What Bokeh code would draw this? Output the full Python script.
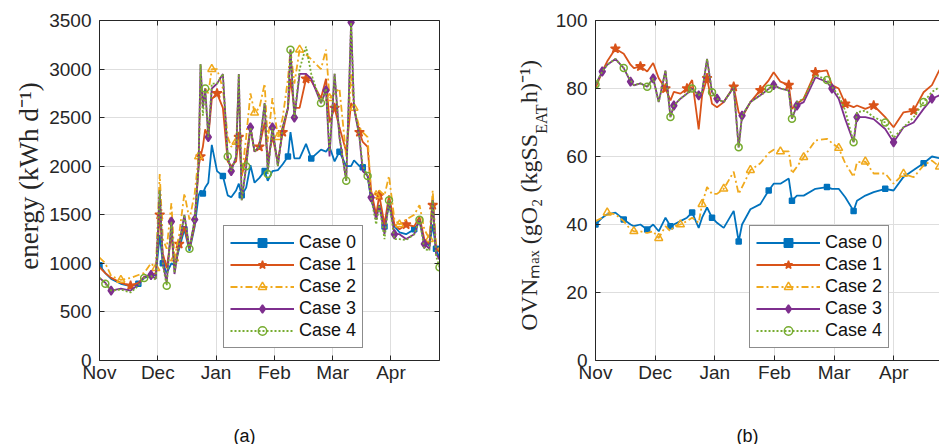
from math import pi
from bokeh.plotting import figure
from bokeh.layouts import row, column
from bokeh.models import Range1d, FixedTicker, LinearAxis, Legend, LegendItem
from bokeh.core.properties import value
from bokeh.embed import file_html
from bokeh.resources import INLINE

# ---------------- data ----------------
MONTHS = ["Nov", "Dec", "Jan", "Feb", "Mar", "Apr"]
MONTH_TICKS = [0, 30, 60, 90, 120, 150]
CASES = ["Case 0", "Case 1", "Case 2", "Case 3", "Case 4"]

energy_ticks = [0, 500, 1000, 1500, 2000, 2500, 3000, 3500]
ovn_ticks = [0, 20, 40, 60, 80, 100]

days_a = [0, 3, 6, 11, 16, 20, 23, 26.5, 29, 31,
          32.6, 34.6, 37, 38.6, 41, 43.7, 46.3, 49, 51, 52,
          53.2, 54.4, 56, 57.8, 60.5, 63.5, 66, 67.8, 70.3, 71.7,
          73.2, 75.5, 77.7, 79.8, 82.3, 85, 86.6, 89, 91.8, 94.3,
          97, 98.3, 100.3, 103, 106.3, 109, 114, 116.6, 118.4, 121,
          123.5, 127, 129.5, 131, 133.8, 135.5, 138, 139.8, 142.4, 144,
          146.7, 149, 151.8, 154.4, 157.8, 162, 164.7, 167.2, 169.8, 171.5,
          173.2, 175]

energy_case0 = [980, 900, 840, 790, 765, 790, 850, 870, 880, 1290,
                1000, 900, 1000, 980, 1150, 1350, 1130, 1380, 1700, 1750,
                1720, 1780, 1830, 2220, 1950, 1900, 1700, 1680, 1750, 1820,
                1700, 1780, 2010, 1830, 1880, 1950, 1850, 1950, 1960, 2020,
                2100, 2350, 2080, 2080, 2230, 2080, 2170, 2150, 2200, 2050,
                2150, 2000, 2000, 2060, 2000, 1990, 1900, 1650, 1500, 1600,
                1380, 1600, 1380, 1320, 1300, 1350, 1430, 1220, 1180, 1400,
                1150, 1050]
energy_case1 = [960, 900, 850, 800, 770, 800, 860, 880, 900, 1500,
                1100, 950, 1300, 950, 1200, 1380, 1150, 1400, 2000, 2100,
                2200, 2380, 2300, 2690, 2750, 2600, 2050, 2000, 2050, 2300,
                1900, 2100, 2400, 2150, 2200, 2450, 2060, 2300, 2050, 2350,
                2600, 2900, 2600, 2600, 2900, 2880, 2700, 2900, 2450, 2600,
                2400, 2150, 2650, 2600, 2350, 2250, 2200, 1750, 1500, 1700,
                1400, 1700, 1400, 1350, 1400, 1380, 1480, 1250, 1200, 1600,
                1150, 1120]
energy_case2 = [1060, 1000, 870, 830, 850, 880, 900, 1000, 950, 1920,
                1250, 1150, 1620, 1050, 1300, 1720, 1450, 1720, 2100, 2800,
                2650, 2800, 2750, 3000, 3000, 2800, 2300, 2200, 2250, 2800,
                1900, 2300, 2750, 2550, 2600, 2850, 2250, 2700, 2300, 2500,
                2900, 3200, 2850, 3200, 3150, 3100, 3000, 3200, 2700, 2750,
                2800, 2100, 2950, 2600, 2400, 2350, 2300, 1700, 1700, 1750,
                1700, 1900, 1450, 1400, 1450, 1500, 1600, 1350, 1250, 1750,
                1200, 1130]
energy_case3 = [850, 800, 720, 740, 720, 780, 860, 880, 840, 1750,
                1000, 800, 1430, 890, 1200, 1500, 1150, 1450, 2000, 3050,
                2600, 2800, 2300, 2800, 2850, 2950, 2100, 1950, 2100, 2950,
                1650, 2000, 2400, 2150, 2200, 2650, 1950, 2400, 2000, 2400,
                2600, 3200, 2500, 2950, 2950, 2900, 2650, 2780, 2100, 2950,
                2300, 1850, 3480, 2600, 2300, 1950, 1900, 1680, 1450, 1600,
                1300, 1650, 1300, 1300, 1250, 1300, 1450, 1200, 1150, 1650,
                1100, 1040]
energy_case4 = [850, 790, 720, 730, 700, 770, 850, 870, 830, 1750,
                980, 770, 1430, 900, 1200, 1500, 1150, 1450, 2000, 3050,
                2520, 2800, 2300, 2850, 2850, 2950, 2100, 1950, 2100, 2950,
                1650, 2000, 2400, 2150, 2200, 2650, 1920, 2400, 2000, 2400,
                2600, 3200, 2500, 3000, 3230, 2950, 2650, 2800, 2150, 2950,
                2300, 1850, 3480, 2620, 2300, 2000, 1900, 1680, 1400, 1600,
                1250, 1650, 1250, 1250, 1240, 1300, 1450, 1150, 1130, 1650,
                1080, 960]

days_b = [0, 3.4, 5.9, 10, 14.2, 17.6, 19.3, 22.6, 26, 29,
          31.8, 35.2, 37.7, 39.4, 42.7, 46, 48.6, 51.9, 53.6, 56.1,
          58.6, 61.1, 64.5, 69.5, 72, 73.7, 77.9, 82.9, 87.1, 89.6,
          93, 97.2, 98.8, 101.3, 104.7, 110.6, 116.4, 118.9, 122.3, 125.6,
          129.8, 131.5, 135.7, 139.9, 145.7, 149.9, 154.9, 160, 165, 169.2,
          173]

ovn_case0 = [40, 42, 43, 43.5, 41.5, 40, 39.5, 40, 38.5, 40,
             38, 42, 39.5, 40, 41, 42, 43.5, 39, 42, 45,
             42, 40.5, 39, 44, 35, 40, 44.5, 46, 50, 52,
             52, 53.5, 47, 48.5, 48.5, 50.5, 51, 50.5, 50.5, 48,
             44, 47, 48.5, 49.5, 50.5, 50, 54, 56, 58, 60,
             59.5]
ovn_case1 = [80, 85, 88, 91.7, 90.2, 87, 86, 86.5, 85, 87.5,
             83, 80, 76.5, 79, 78.5, 80, 82.5, 68, 78, 83,
             75.5, 74.5, 76, 80.5, 73, 71.5, 76, 79.5, 82.4, 84.8,
             82, 81, 74, 75.5, 77, 84.8, 85.3, 81, 80, 75.5,
             74.5, 75, 74, 75, 71.6, 68.6, 73, 73.5, 78.9, 81,
             85.5]
ovn_case2 = [41, 42, 43.5, 43, 41, 38.5, 38, 38, 37.5, 38,
             36, 39.5, 38, 39.5, 40, 41, 42, 40.5, 46, 51,
             49, 49, 50.5, 55.5, 49, 51, 56, 58, 61, 62,
             61.5, 61.5, 55, 57, 59.8, 64.7, 65.2, 64, 62.5, 58,
             54, 58.3, 58.5, 55, 55, 52, 54.9, 53.9, 57.4, 58.8,
             57]
ovn_case3 = [81, 85, 87, 88.7, 86, 82, 80.9, 81.5, 80.5, 83,
             76, 85.3, 71.6, 75, 77, 78.5, 80, 78, 79, 88.7,
             78.9, 77, 76, 80.4, 62.7, 72, 76, 78, 79.9, 81,
             80, 79.4, 71.1, 75, 76, 83.3, 81.9, 80, 77, 71,
             64.2, 71.6, 71.6, 71, 68.1, 64.2, 68.6, 70, 74, 77,
             78]
ovn_case4 = [81.2, 85, 87, 88.7, 86, 82.4, 81, 81.5, 80.5, 83,
             76, 85.3, 71.6, 75, 77, 78.5, 80, 78, 79, 88.7,
             78.9, 77, 76, 80.4, 62.7, 72, 76, 78, 79.9, 81,
             80, 79.4, 71.1, 76, 77, 84, 82.5, 80.5, 78, 73.5,
             64.2, 73, 73.5, 71.6, 70, 65.5, 68.6, 71.5, 76, 79,
             80.4]

ylabel_a = "energy (kWh d\u207b\u00b9)"
ylabel_b_head = "OVN\u2098\u2090\u2093 (gO\u2082 (kgSS"
ylabel_b_sub = "EAT"
ylabel_b_tail = " h)\u207b\u00b9)"
panel_tags = ["(a)", "(b)"]

# ---------------- styles / layout ----------------
COLORS = ["#0072BD", "#D95319", "#F0A91C", "#7E2F8E", "#77AC30"]
DASHES = ["solid", "solid", "7 3 2 3", "solid", "2 2"]
MARKERS = ["square", "star", "triangle", "diamond", "circle"]
MSIZES = [5, 10, 8, 9, 7]
MFILL = [True, True, False, True, False]
AXC = "#262626"
TOP_H = 420          # height of the row with the two charts
BOT_H = 24           # strip under the charts for (a) / (b)
FRAME_TOP = 20
FRAME_H = 340


def style_fig(p, y_ticks, right_axis):
    p.outline_line_color = None
    p.xaxis.ticker = FixedTicker(ticks=MONTH_TICKS)
    p.xaxis.major_label_overrides = {t: m for t, m in zip(MONTH_TICKS, MONTHS)}
    p.yaxis.ticker = FixedTicker(ticks=y_ticks)
    for ax in p.xaxis + p.yaxis:
        ax.major_label_text_font = "Liberation Sans"
        ax.major_label_text_font_size = "19px"
        ax.major_label_text_color = AXC
        ax.axis_line_color = AXC
        ax.major_tick_line_color = AXC
        ax.major_tick_in = 5
        ax.major_tick_out = 0
        ax.minor_tick_line_color = None
    p.xaxis.major_label_standoff = 1
    p.yaxis.major_label_standoff = 8
    p.xgrid.ticker = FixedTicker(ticks=MONTH_TICKS)
    p.ygrid.ticker = FixedTicker(ticks=y_ticks)
    p.grid.grid_line_color = "#DEDEDE"
    p.grid.grid_line_width = 1
    top = LinearAxis(ticker=FixedTicker(ticks=MONTH_TICKS), major_label_text_font_size="0px",
                     major_label_text_color=None, major_label_standoff=0, major_tick_in=5,
                     major_tick_out=0, minor_tick_line_color=None, axis_line_color=AXC,
                     major_tick_line_color=AXC)
    p.add_layout(top, "above")
    if right_axis:
        rax = LinearAxis(ticker=FixedTicker(ticks=y_ticks), major_label_text_font_size="0px",
                         major_label_text_color=None, major_label_standoff=0, major_tick_in=5,
                         major_tick_out=0, minor_tick_line_color=None, axis_line_color=AXC,
                         major_tick_line_color=AXC)
        p.add_layout(rax, "right")


def draw_series(p, xs, series, step):
    items = []
    for k, ys in enumerate(series):
        c = COLORS[k]
        lr = p.line(xs, ys, line_color=c, line_width=1.8, line_dash=DASHES[k])
        mx = [x for i, x in enumerate(xs) if (i + k) % step == 0]
        my = [y for i, y in enumerate(ys) if (i + k) % step == 0]
        sr = p.scatter(mx, my, marker=MARKERS[k], size=MSIZES[k], line_color=c, line_width=1.5,
                       fill_color=c if MFILL[k] else "white", fill_alpha=1.0 if MFILL[k] else 0.0)
        items.append(LegendItem(label=CASES[k], renderers=[lr, sr]))
    return items


def add_legend(p, items, loc):
    lg = Legend(items=items, location=loc, label_text_font="Liberation Sans",
                label_text_font_size="18px", label_text_color="#111111",
                glyph_width=64, glyph_height=21, label_height=21, label_standoff=5,
                padding=6, spacing=1, margin=0, border_line_color="#1a1a1a",
                border_line_width=1.5, background_fill_color="white", background_fill_alpha=1.0)
    p.add_layout(lg)


def text_fig(width, height):
    f = figure(width=width, height=height, x_range=Range1d(0, width), y_range=Range1d(0, height),
               output_backend="svg", toolbar_location=None, x_axis_location=None,
               y_axis_location=None, min_border_left=0, min_border_right=0,
               min_border_top=0, min_border_bottom=0)
    f.outline_line_color = None
    f.grid.visible = False
    return f


def vtext(f, fig_left, text, px, py, size, align):
    """Bottom-to-top text; px/py in page pixels (px = middle of the text line)."""
    f.text(x=[px - fig_left], y=[TOP_H - py], text=[text], angle=pi / 2,
           text_align=align, text_baseline="middle",
           text_font=value("Liberation Serif"), text_font_size=value(f"{size}px"),
           text_color=AXC)


# ---- left label strip ----
LA_W = 46
fla = text_fig(LA_W, TOP_H)
vtext(fla, 0, ylabel_a, 28, 192, 27, "center")

# ---- figure (a) ----
A_LEFT, A_W, A_FRAME_L, A_FRAME_W, A_XEND = 46, 459, 98, 341, 175
pa = figure(width=A_W, height=TOP_H, x_range=Range1d(0, A_XEND), y_range=Range1d(0, 3500),
            output_backend="svg", toolbar_location=None,
            min_border_left=A_FRAME_L - A_LEFT,
            min_border_right=A_W - (A_FRAME_L - A_LEFT) - A_FRAME_W,
            min_border_top=FRAME_TOP, min_border_bottom=TOP_H - FRAME_TOP - FRAME_H)
style_fig(pa, energy_ticks, True)
items_a = draw_series(pa, days_a, [energy_case0, energy_case1, energy_case2, energy_case3, energy_case4], 5)
add_legend(pa, items_a, (124, 12))

# ---- right label strip ----
LB_LEFT, LB_W = 505, 45
flb = text_fig(LB_W, TOP_H)
JUNCTION = 140          # page y where the subscript "EAT" starts
SUB_LEN = 38            # room given to the subscript
vtext(flb, LB_LEFT, ylabel_b_head, 528, JUNCTION, 24, "right")
vtext(flb, LB_LEFT, ylabel_b_sub, 541, JUNCTION, 16, "left")
vtext(flb, LB_LEFT, ylabel_b_tail, 528, JUNCTION - SUB_LEN, 24, "left")

# ---- figure (b) ----
B_LEFT, B_W, B_FRAME_L, B_FRAME_W, B_XEND = 550, 389, 595, 344, 173
pb = figure(width=B_W, height=TOP_H, x_range=Range1d(0, B_XEND), y_range=Range1d(0, 100),
            output_backend="svg", toolbar_location=None,
            min_border_left=B_FRAME_L - B_LEFT, min_border_right=0,
            min_border_top=FRAME_TOP, min_border_bottom=TOP_H - FRAME_TOP - FRAME_H)
style_fig(pb, ovn_ticks, False)
items_b = draw_series(pb, days_b, [ovn_case0, ovn_case1, ovn_case2, ovn_case3, ovn_case4], 4)
add_legend(pb, items_b, (154, 12))

# ---- bottom strip with panel tags ----
fbot = text_fig(939, BOT_H)
fbot.text(x=[244, 747], y=[9, 9], text=panel_tags, text_align="center", text_baseline="middle",
          text_font=value("Liberation Sans"), text_font_size=value("18px"), text_color="#111111")

layout = column(row(fla, pa, flb, pb), fbot)
open("out.html", "w").write(file_html(layout, INLINE))
